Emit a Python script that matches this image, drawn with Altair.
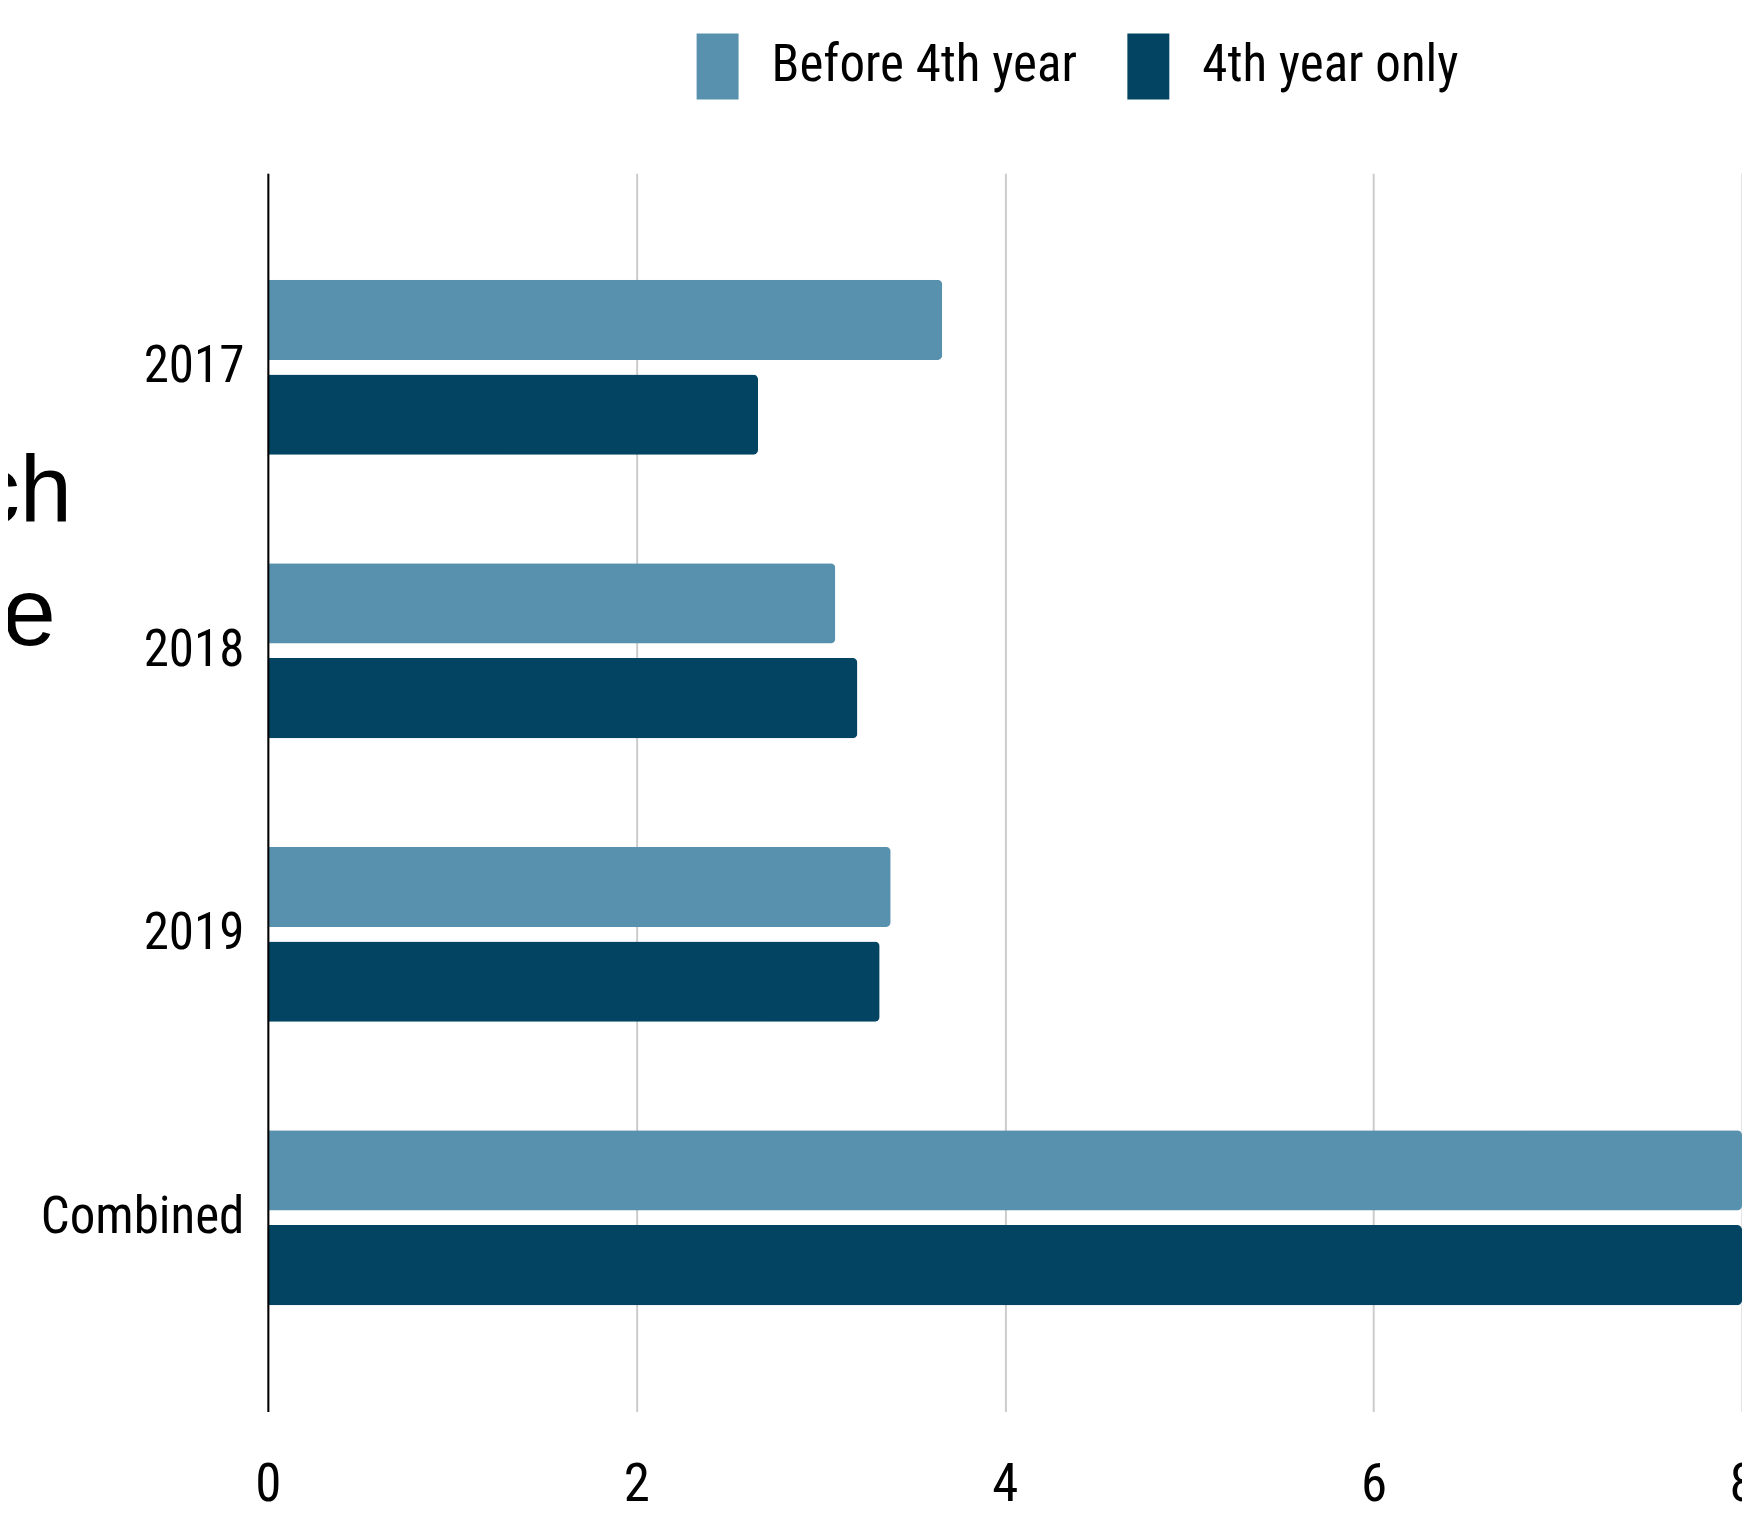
import altair as alt
import pandas as pd

categories = ["2017", "2018", "2019", "Combined"]
series_names = ["Before 4th year", "4th year only"]
before_4th = [3.66, 3.08, 3.38, 10.1]
fourth_only = [2.66, 3.20, 3.32, 9.17]
x_ticks = [0, 2, 4, 6, 8]
colors = ["#5891ae", "#024461"]

rows = []
for c, b, f in zip(categories, before_4th, fourth_only):
    rows.append({"cat": c, "series": series_names[0], "value": b})
    rows.append({"cat": c, "series": series_names[1], "value": f})
df = pd.DataFrame(rows)

FONT = "Liberation Sans Narrow, Roboto Condensed, DejaVu Sans Condensed, Liberation Sans"

bars = alt.Chart(df).mark_bar(cornerRadiusEnd=5).encode(
    x=alt.X("value:Q",
            scale=alt.Scale(domain=[0, 8.0], nice=False, zero=True, clamp=True),
            axis=alt.Axis(values=x_ticks, title=None, grid=True, gridColor="#cccccc",
                          gridWidth=2, domain=False, ticks=False, labelFontSize=53,
                          labelFont=FONT, labelColor="#000000", labelPadding=47,
                          labelFlush=False, labelLimit=0)),
    y=alt.Y("cat:N", sort=categories,
            scale=alt.Scale(paddingInner=0.383, paddingOuter=0.375),
            axis=alt.Axis(title=None, domain=True, domainColor="#000000", domainWidth=2,
                          ticks=False, grid=False, labelFontSize=51, labelFont=FONT,
                          labelColor="#000000", labelPadding=24, zindex=1,
                          labelLimit=0)),
    yOffset=alt.YOffset("series:N", sort=series_names,
                        scale=alt.Scale(paddingInner=0.153, paddingOuter=0)),
    color=alt.Color("series:N", sort=series_names,
                    scale=alt.Scale(domain=series_names, range=colors),
                    legend=alt.Legend(title=None, orient="none", legendX=417, legendY=-140,
                                      direction="horizontal", padding=0,
                                      symbolType="M-0.636,-1H0.636V1H-0.636Z",
                                      symbolSize=4356, symbolStrokeWidth=0,
                                      symbolOpacity=1, labelFontSize=51, labelFont=FONT,
                                      labelColor="#000000", labelOffset=21,
                                      columnPadding=38, labelLimit=0)),
)

text_ch = alt.Chart(pd.DataFrame({"t": ["ch"]})).mark_text(
    text="ch", font="Liberation Sans", fontSize=94, align="right", baseline="alphabetic",
    color="#000000"
).encode(x=alt.value(-196), y=alt.value(349))

text_e = alt.Chart(pd.DataFrame({"t": ["e"]})).mark_text(
    text="e", font="Liberation Sans", fontSize=96, align="right", baseline="alphabetic",
    color="#000000"
).encode(x=alt.value(-212), y=alt.value(472))

chart = alt.layer(bars, text_ch, text_e).properties(
    width=1475, height=1239,
    autosize=alt.AutoSizeParams(type="none"),
    padding={"left": 260, "top": 165, "right": 0, "bottom": 103},
).configure_view(stroke=None)

chart.save("out.html", embed_options={"renderer": "svg", "actions": False})
